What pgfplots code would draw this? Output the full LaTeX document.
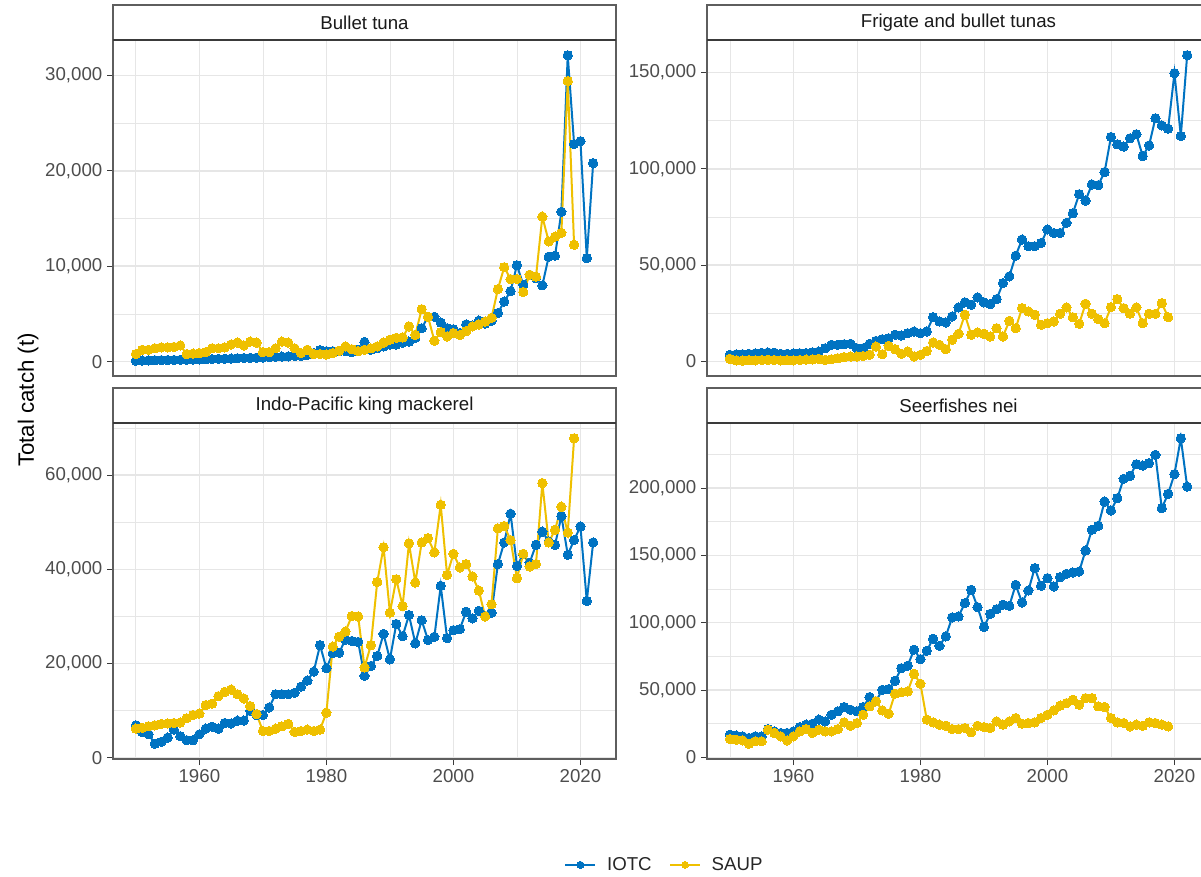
\documentclass[border=0pt]{standalone}
\usepackage{fontspec}
\setmainfont{Liberation Sans}
\usepackage{pgfplots}
\usepackage{pgfplotstable}
\pgfplotsset{compat=1.18}

\definecolor{iotc}{HTML}{0073C2}
\definecolor{saup}{HTML}{EFC000}
\definecolor{gridc}{HTML}{E6E6E6}
\definecolor{framec}{HTML}{5E5E5E}
\definecolor{stripline}{HTML}{3A3A3A}
\definecolor{ticklab}{HTML}{4D4D4D}
\definecolor{striptext}{HTML}{1A1A1A}

% Total catch (t) by year, IOTC and SAUP
\pgfplotstableread{
year iotc saup
1950 100 800
1951 120 1250
1952 140 1250
1953 150 1400
1954 160 1500
1955 170 1500
1956 180 1550
1957 190 1700
1958 200 800
1959 210 850
1960 230 900
1961 250 1000
1962 270 1400
1963 290 1400
1964 310 1500
1965 330 1800
1966 360 2000
1967 380 1700
1968 400 2100
1969 420 2000
1970 440 1000
1971 470 1000
1972 500 1400
1973 530 2100
1974 560 2000
1975 600 1400
1976 620 900
1977 700 1250
1978 900 800
1979 1200 800
1980 1100 750
1981 1100 900
1982 1100 1150
1983 1100 1600
1984 1000 1300
1985 1250 1100
1986 2060 1250
1987 1250 1400
1988 1400 1600
1989 1600 2000
1990 1800 2300
1991 1800 2500
1992 2000 2550
1993 2100 3700
1994 2500 2800
1995 3500 5500
1996 4700 4700
1997 4700 2200
1998 4100 3100
1999 3500 2650
2000 3400 3000
2001 3000 2800
2002 3900 3200
2003 3800 3700
2004 4300 3900
2005 4000 4200
2006 4300 4600
2007 5100 7600
2008 6300 9900
2009 7400 8650
2010 10100 8650
2011 8050 7300
2012 9100 9100
2013 8750 8900
2014 8000 15200
2015 11000 12600
2016 11100 13100
2017 15700 13500
2018 32100 29400
2019 22800 12250
2020 23100 nan
2021 10850 nan
2022 20800 nan
}\tblBullet

\pgfplotstableread{
year iotc saup
1950 3500 1400
1951 3700 600
1952 3800 500
1953 4000 700
1954 4200 600
1955 4500 800
1956 4700 900
1957 4600 800
1958 4000 600
1959 4000 700
1960 4200 600
1961 4300 800
1962 4400 1000
1963 4800 1100
1964 5200 1400
1965 6900 900
1966 8700 1200
1967 8700 1700
1968 9000 2300
1969 9200 2600
1970 6900 2600
1971 6900 2900
1972 9200 3500
1973 10700 7800
1974 11600 3800
1975 12100 8100
1976 13900 6400
1977 13500 4000
1978 14700 5200
1979 15600 2600
1980 14700 3500
1981 15600 5500
1982 23000 9900
1983 20800 8700
1984 20300 6400
1985 23400 11300
1986 28100 14400
1987 30700 24300
1988 29500 13900
1989 33300 15100
1990 30700 14400
1991 29800 13000
1992 32400 17300
1993 40700 13000
1994 44200 21100
1995 54900 17300
1996 63300 27700
1997 59800 26000
1998 59800 24300
1999 61500 19100
2000 68500 19900
2001 66700 20800
2002 66700 24800
2003 71900 28100
2004 76900 23000
2005 86800 19600
2006 83500 30000
2007 91900 24800
2008 91500 22000
2009 98300 19900
2010 116500 28200
2011 112700 32400
2012 111500 27700
2013 115800 24800
2014 117900 28100
2015 106600 19900
2016 112100 24800
2017 126200 24800
2018 122500 30300
2019 120800 23000
2020 149600 nan
2021 117000 nan
2022 158900 nan
}\tblFrigate

\pgfplotstableread{
year iotc saup
1950 6900 6200
1951 5500 6400
1952 5000 6700
1953 3000 6900
1954 3400 7200
1955 4300 7300
1956 6000 7400
1957 4600 7500
1958 3750 8400
1959 3750 9100
1960 5000 9400
1961 6200 11200
1962 6600 11500
1963 6200 13100
1964 7400 14000
1965 7300 14500
1966 7900 13500
1967 7900 12600
1968 10000 11000
1969 9100 9300
1970 9100 5700
1971 10700 5700
1972 13500 6200
1973 13500 6700
1974 13500 7200
1975 13800 5500
1976 15100 5700
1977 16400 6000
1978 18300 5700
1979 23900 6000
1980 19000 9600
1981 22200 23600
1982 22300 25700
1983 25100 26800
1984 24800 30100
1985 24600 30000
1986 17400 19200
1987 19500 23900
1988 21600 37300
1989 26300 44700
1990 20900 30800
1991 28400 37900
1992 25800 32200
1993 30300 45500
1994 24300 37200
1995 29200 45700
1996 25000 46600
1997 25700 43600
1998 36500 53700
1999 25400 38800
2000 27100 43300
2001 27300 40400
2002 31000 41100
2003 29600 38500
2004 31200 35500
2005 30100 30000
2006 30800 32600
2007 41100 48700
2008 45700 49200
2009 51800 46200
2010 40700 38100
2011 43200 43300
2012 41400 40600
2013 45200 41100
2014 48000 58300
2015 45900 45700
2016 45200 48400
2017 51300 53300
2018 43100 47800
2019 46200 67800
2020 49100 nan
2021 33300 nan
2022 45700 nan
}\tblKing

\pgfplotstableread{
year iotc saup
1950 16800 13600
1951 16100 13100
1952 15600 12600
1953 14400 10100
1954 15600 11900
1955 15600 11900
1956 21000 20500
1957 19300 18100
1958 18100 15600
1959 18100 12600
1960 19300 15600
1961 22500 19300
1962 24300 21000
1963 25000 18100
1964 28000 20500
1965 26700 19300
1966 31700 19300
1967 34200 21000
1968 37400 26000
1969 35400 23500
1970 34200 25500
1971 37400 31700
1972 44800 37900
1973 41600 41600
1974 50200 34900
1975 50700 32400
1976 56900 47300
1977 66300 48300
1978 68100 49000
1979 80000 62100
1980 73000 54700
1981 79200 28000
1982 88100 26000
1983 82900 24300
1984 89900 23500
1985 104000 21000
1986 104700 21000
1987 114600 21800
1988 124500 18600
1989 111600 23500
1990 96800 22500
1991 106700 21800
1992 110100 26700
1993 113400 24300
1994 112600 26700
1995 128200 29200
1996 115100 25000
1997 124000 25500
1998 140600 26000
1999 127500 29200
2000 133200 31700
2001 127000 34900
2002 133900 38400
2003 136400 40300
2004 137400 42800
2005 138100 39100
2006 153700 44000
2007 169100 44000
2008 172000 37900
2009 190100 37400
2010 183400 29200
2011 192600 26000
2012 207000 25500
2013 209200 23000
2014 217800 24300
2015 216800 23500
2016 218600 26000
2017 224800 25500
2018 185100 24300
2019 195800 23000
2020 210400 nan
2021 237100 nan
2022 201200 nan
}\tblSeer

\pgfplotsset{
  facet/.style={
    scale only axis,
    width=377.25pt, height=252pt,
    anchor=south west,
    xmin=1946.4, xmax=2025.6,
    xtick={1960,1980,2000,2020},
    minor xtick={1950,1970,1990,2010},
    xticklabels={1960,1980,2000,2020},
    grid=both,
    major grid style={gridc, line width=1.1pt},
    minor grid style={gridc, line width=0.55pt},
    axis line style={framec, line width=0.8pt},
    tick align=outside,
    major tick length=4.5pt,
    minor tick length=0pt,
    tick style={stripline, line width=0.8pt},
    xtick pos=left, ytick pos=left,
    tick label style={font=\fontsize{14}{16}\selectfont, text=ticklab},
    unbounded coords=jump,
    clip=true,
  },
  toprow/.style={xticklabels={}, xtick style={draw=none}},
  iotcplot/.style={color=iotc, line width=1.5pt, mark=*, mark size=3.5pt,
    mark options={solid, fill=iotc, draw=iotc, line width=0pt}},
  saupplot/.style={color=saup, line width=1.5pt, mark=*, mark size=3.5pt,
    mark options={solid, fill=saup, draw=saup, line width=0pt}},
}

\begin{document}
\begin{tikzpicture}

% Bullet tuna
\begin{axis}[facet, toprow, name=p1, at={(84.75pt,375pt)},
  ymin=-1500, ymax=33700, ytick={0,10000,20000,30000},
  yticklabels={0,{10,000},{20,000},{30,000}},
  minor ytick={5000,15000,25000}]
  \addplot[iotcplot] table[x=year, y=iotc] {\tblBullet};
  \addplot[saupplot] table[x=year, y=saup] {\tblBullet};
\end{axis}

% Frigate and bullet tunas
\begin{axis}[facet, toprow, name=p2, at={(530.25pt,375pt)},
  ymin=-7500, ymax=166800, ytick={0,50000,100000,150000},
  yticklabels={0,{50,000},{100,000},{150,000}},
  minor ytick={25000,75000,125000}]
  \addplot[iotcplot] table[x=year, y=iotc] {\tblFrigate};
  \addplot[saupplot] table[x=year, y=saup] {\tblFrigate};
\end{axis}

% Indo-Pacific king mackerel
\begin{axis}[facet, name=p3, at={(84.75pt,87.75pt)},
  ymin=-240, ymax=71040, ytick={0,20000,40000,60000},
  yticklabels={0,{20,000},{40,000},{60,000}},
  minor ytick={10000,30000,50000,70000},
  legend style={at={(1.097,-0.315)}, anchor=center, draw=none, fill=none,
    legend columns=2, font=\fontsize{14}{16}\selectfont, text=black!85,
    /tikz/every odd column/.append style={column sep=6pt},
    /tikz/every even column/.append style={column sep=11pt}},
  legend cell align=left,
  legend image code/.code={\draw[mark repeat=2, mark phase=2, #1, mark size=2.6pt]
    plot coordinates {(0pt,0pt) (11.25pt,0pt) (22.5pt,0pt)};}]
  \addplot[iotcplot] table[x=year, y=iotc] {\tblKing};
  \addlegendentry{IOTC}
  \addplot[saupplot] table[x=year, y=saup] {\tblKing};
  \addlegendentry{SAUP}
\end{axis}

% Seerfishes nei
\begin{axis}[facet, name=p4, at={(530.25pt,87.75pt)},
  ymin=-1250, ymax=248450, ytick={0,50000,100000,150000,200000},
  yticklabels={0,{50,000},{100,000},{150,000},{200,000}},
  minor ytick={25000,75000,125000,175000,225000}]
  \addplot[iotcplot] table[x=year, y=iotc] {\tblSeer};
  \addplot[saupplot] table[x=year, y=saup] {\tblSeer};
\end{axis}

% facet strips
\foreach \p/\t in {p1/Bullet tuna, p2/Frigate and bullet tunas,
                   p3/Indo-Pacific king mackerel, p4/Seerfishes nei}{
  \draw[framec, line width=0.8pt, fill=white]
    (\p.north west) rectangle ([yshift=26.25pt]\p.north east);
  \draw[stripline, line width=1.5pt] (\p.north west) -- (\p.north east);
  \node[font=\fontsize{14}{16}\selectfont, text=striptext]
    at ([yshift=13.125pt]\p.north) {\t};
}

% shared y-axis title
\node[rotate=90, font=\fontsize{16.7}{20}\selectfont] at (21pt,357pt) {Total catch (t)};

\pgfresetboundingbox
\useasboundingbox (0pt,0pt) rectangle (900.75pt,657pt);
\end{tikzpicture}
\end{document}
